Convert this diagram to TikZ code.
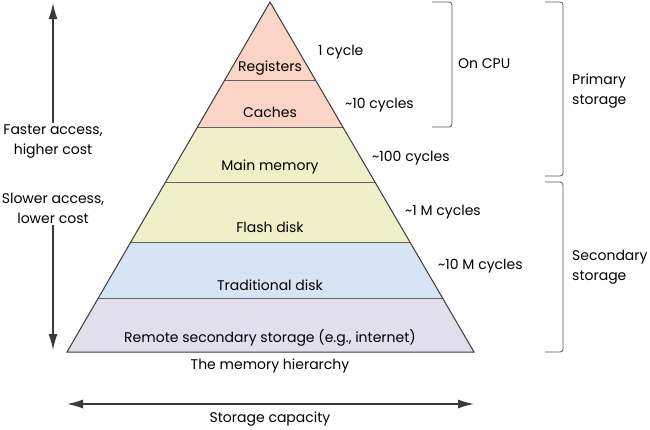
\documentclass[tikz,border=0pt]{standalone}
\usepackage{fontspec}
\setmainfont{Poppins}
\usetikzlibrary{positioning, calc, arrows.meta}
\definecolor{cpupink}{HTML}{FAD4C4}
\definecolor{mainyellow}{HTML}{EFF0C9}
\definecolor{diskblue}{HTML}{D6E4F4}
\definecolor{remotelilac}{HTML}{E2DFED}
\definecolor{linegray}{HTML}{3A3A3A}

\begin{document}
\begin{tikzpicture}[
        x=1pt, y=-1pt,
        font=\fontsize{14}{20}\selectfont,
        level/.style={draw=linegray!80, line width=0.9pt},
        label/.style={inner sep=2pt, align=center},
        cycles/.style={anchor=west, inner sep=0pt},
        bracket/.style={draw=linegray!85, line width=0.8pt, rounded corners=3pt},
        arrow/.style={-{Latex[length=16pt, width=9pt]}, line width=1.4pt, draw=linegray},
        dblarrow/.style={{Latex[length=16pt, width=9pt]}-{Latex[length=16pt, width=9pt]}, line width=1.4pt, draw=linegray}
    ]

        \useasboundingbox (0,0) rectangle (650,429);

        % Pyramid corners
        \coordinate (apex) at (270,2);
        \coordinate (bl) at (67,352);
        \coordinate (br) at (474,352);

        % Layers
        \foreach \ta/\tb/\col in {0/0.3571/cpupink, 0.3571/0.6857/mainyellow,
                                  0.6857/0.8457/diskblue, 0.8457/1/remotelilac}
            \fill [\col] ($(apex)!\ta!(bl)$) -- ($(apex)!\ta!(br)$)
                -- ($(apex)!\tb!(br)$) -- ($(apex)!\tb!(bl)$) -- cycle;
        \foreach \t in {0.2229, 0.3571, 0.5143, 0.6857, 0.8457}
            \draw [level] ($(apex)!\t!(bl)$) -- ($(apex)!\t!(br)$);
        \draw [linegray, line width=1pt, line join=miter] (apex) -- (bl) -- (br) -- cycle;

        % Nodes
        \node [label] (reg) at (270,68) {Registers};
        \node [label] (cache) at (270,112) {Caches};
        \node [label] (main) at (270,167) {Main memory};
        \node [label] (flash) at (270,227) {Flash disk};
        \node [label] (disk) at (270,285) {Traditional disk};
        \node [label] (remote) at (270,338) {Remote secondary storage (e.g., internet)};
        \node [label] (title) at (270,366) {The memory hierarchy};

        \node [cycles] (c1) at (318,52) {1 cycle};
        \node [cycles] (c2) at (345,105) {\textasciitilde10 cycles};
        \node [cycles] (c3) at (372,158) {\textasciitilde100 cycles};
        \node [cycles] (c4) at (405,212) {\textasciitilde1 M cycles};
        \node [cycles] (c5) at (438,266) {\textasciitilde10 M cycles};

        \node [cycles] (cpu) at (458,64) {On CPU};
        \node [cycles, align=left] (prim) at (572,91) {Primary\\storage};
        \node [cycles, align=left] (sec) at (572,267) {Secondary\\storage};

        \node [label] (fast) at (53,142) {Faster access,\\higher cost};
        \node [label] (slow) at (53,208) {Slower access,\\lower cost};
        \node [label] (cap) at (270,419) {Storage capacity};

        \coordinate (up) at (53,3);
        \coordinate (down) at (53,350);
        \coordinate (capl) at (67,404);
        \coordinate (capr) at (474,404);

        % Brackets
        \draw [bracket] (432,2) -- (452,2) -- (452,127) -- (432,127);
        \draw [bracket] (545,2) -- (563,2) -- (563,176) -- (545,176);
        \draw [bracket] (545,182) -- (563,182) -- (563,352) -- (545,352);

        % Edges
        \draw [arrow] (fast) -- (up);
        \draw [arrow] (slow) -- (down);
        \draw [dblarrow] (capl) -- (capr);

    \end{tikzpicture}
\end{document}
